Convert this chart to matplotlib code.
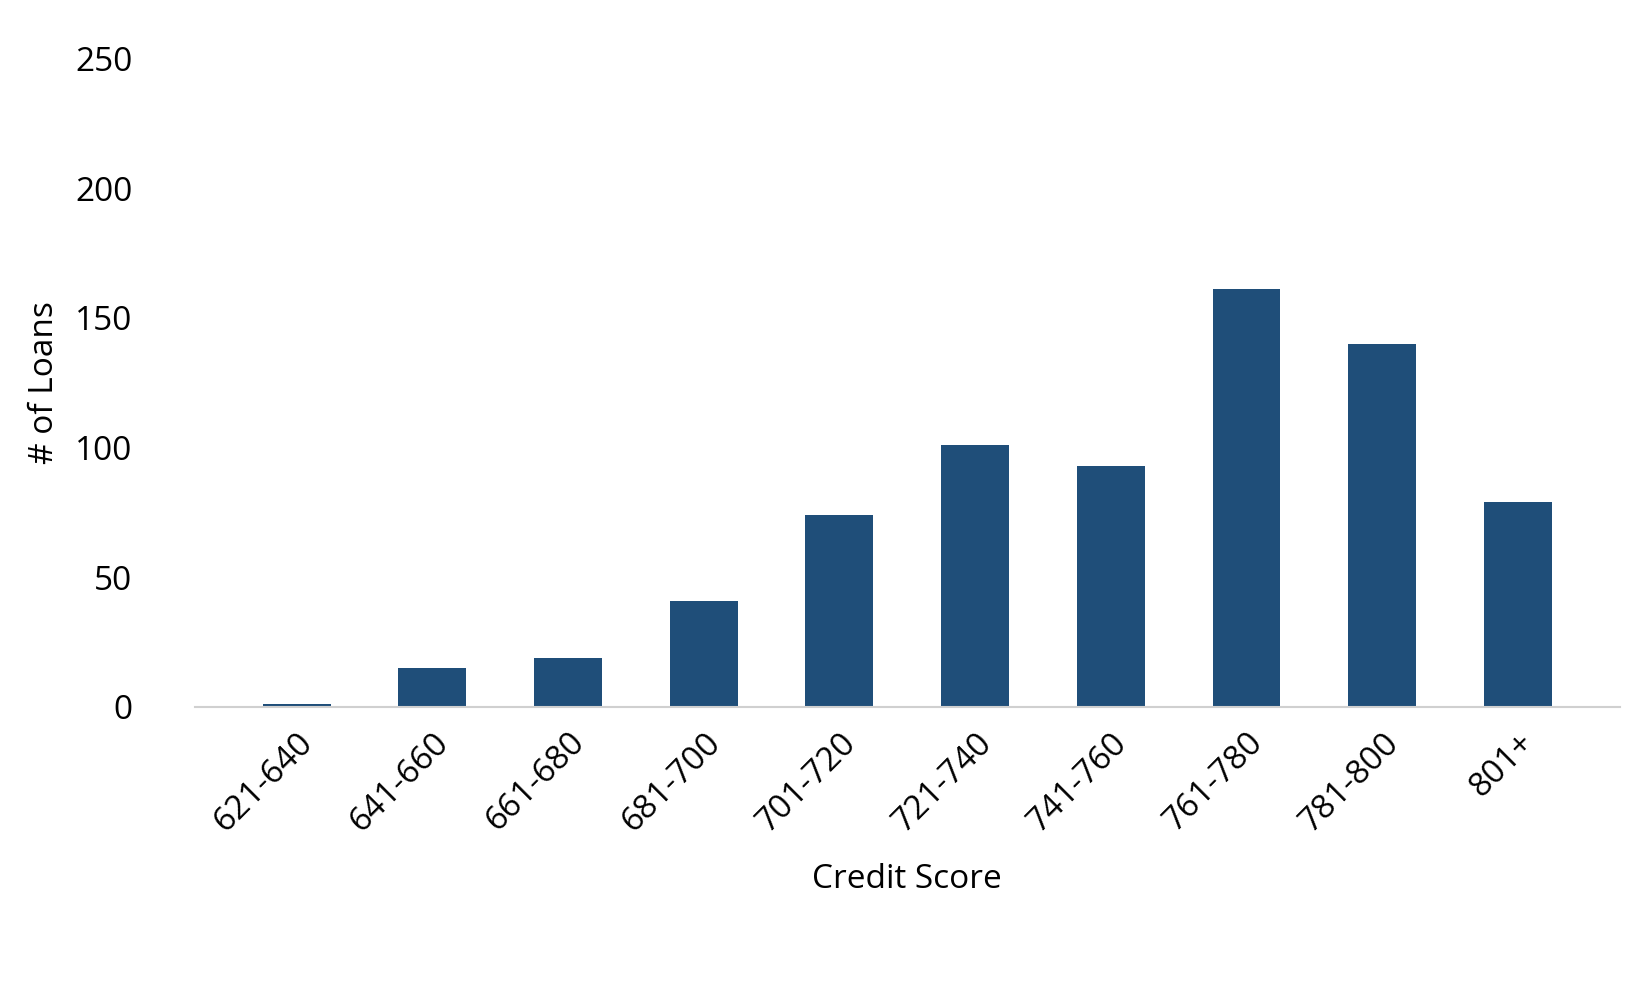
import matplotlib
matplotlib.use("Agg")
import matplotlib.pyplot as plt

categories = ["621-640", "641-660", "661-680", "681-700", "701-720",
              "721-740", "741-760", "761-780", "781-800", "801+"]
loans = [1, 15, 19, 41, 74, 101, 93, 161, 140, 79]

plt.rcParams['font.family'] = ['Open Sans', 'DejaVu Sans']
fig = plt.figure(figsize=(16.51, 9.90), dpi=100)
ax = fig.add_axes([0.118, 0.286, 0.863, 0.655])
ax.bar(range(len(categories)), loans, width=0.5, color="#1F4E79")
ax.set_xlim(-0.75, len(categories) - 0.25)
ax.set_ylim(0, 250)
ax.set_yticks([0, 50, 100, 150, 200, 250])
ax.set_xticks(range(len(categories)))
ax.set_xticklabels(categories, rotation=45, ha="right", rotation_mode="anchor")
ax.tick_params(axis="both", length=0, labelsize=24)
ax.tick_params(axis="y", pad=45)
ax.tick_params(axis="x", pad=14)
for s in ["top", "right", "left"]:
    ax.spines[s].set_visible(False)
ax.spines["bottom"].set_color("#D0D0D0")
ax.spines["bottom"].set_linewidth(1.5)
ax.set_ylabel("# of Loans", fontsize=24, labelpad=10)
ax.set_xlabel("Credit Score", fontsize=24, labelpad=18)
fig.savefig("out.png", dpi=100, facecolor="white")
